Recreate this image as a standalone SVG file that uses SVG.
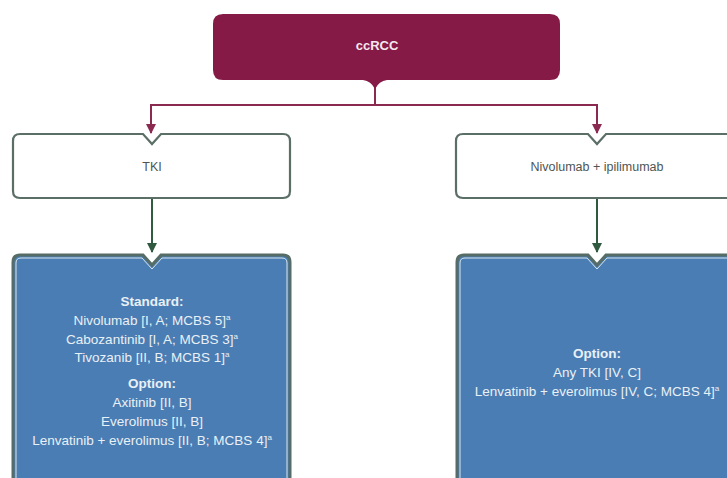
<svg xmlns="http://www.w3.org/2000/svg" width="727" height="478" viewBox="0 0 727 478">
  <defs>
    <style>
      .root { fill: #861a47; }
      .white { fill: #ffffff; stroke: #5b6f67; stroke-width: 2.2; }
      .blue { fill: #4a7db3; stroke: #566c66; stroke-width: 3; }
      .blue-inner { fill: none; stroke: #d9e6ef; stroke-width: 1; }
      .link-red { fill: none; stroke: #8a2a51; stroke-width: 2; }
      .link-green { fill: none; stroke: #2f5a3f; stroke-width: 2; }
      .t { font-family: "Liberation Sans Narrow", "Liberation Sans", Arial, sans-serif; text-anchor: middle; }
      .title { font-size: 13px; font-weight: bold; fill: #f4e8ee; }
      .label { font-size: 12.5px; fill: #4f5552; }
      .body { font-size: 13.5px; fill: #e9f0f6; }
      .head { font-weight: bold; }
      .sup { font-size: 8px; }
    </style>
    <marker id="arrow-red" viewBox="0 0 10 10" refX="9" refY="5" markerWidth="5" markerHeight="5" orient="auto" markerUnits="strokeWidth">
      <path d="M0,0 L10,5 L0,10 Z" fill="#8a2a51"/>
    </marker>
    <marker id="arrow-green" viewBox="0 0 10 10" refX="9" refY="5" markerWidth="5" markerHeight="5" orient="auto" markerUnits="strokeWidth">
      <path d="M0,0 L10,5 L0,10 Z" fill="#2f5a3f"/>
    </marker>
  </defs>

  <rect width="727" height="478" fill="#ffffff"/>

  <!-- connectors -->
  <g id="connectors">
    <path class="link-red" d="M375,86 V105 M151,105 H597"/>
    <path class="link-red" d="M151,104 V133" marker-end="url(#arrow-red)"/>
    <path class="link-red" d="M597,104 V133" marker-end="url(#arrow-red)"/>
    <path class="link-green" d="M152,198 V252" marker-end="url(#arrow-green)"/>
    <path class="link-green" d="M597,198 V252" marker-end="url(#arrow-green)"/>
  </g>

  <!-- root node -->
  <g id="node-ccrcc">
    <path class="root" d="M223,14 H550 Q560,14 560,24 V70 Q560,80 550,80 H387 Q379,81 375,89 Q371,81 363,80 H223 Q213,80 213,70 V24 Q213,14 223,14 Z"/>
    <text class="t title" x="377" y="50">ccRCC</text>
  </g>

  <!-- first-level nodes -->
  <g id="node-tki">
    <path class="white" d="M20,134 H143 L152,144 L161,134 H283 Q290,134 290,141 V191 Q290,198 283,198 H20 Q13,198 13,191 V141 Q13,134 20,134 Z"/>
    <text class="t label" x="152" y="171">TKI</text>
  </g>

  <g id="node-nivo-ipi">
    <path class="white" d="M463,134 H588 L597,144 L606,134 H733 Q740,134 740,141 V191 Q740,198 733,198 H463 Q456,198 456,191 V141 Q456,134 463,134 Z"/>
    <text class="t label" x="597" y="171">Nivolumab + ipilimumab</text>
  </g>

  <!-- second-line options -->
  <g id="node-after-tki">
    <path class="blue" d="M20,255 H143 L152,265 L161,255 H283 Q290,255 290,262 V500 H13 V262 Q13,255 20,255 Z"/>
    <path class="blue-inner" d="M21,258 H142 L152,269 L162,258 H282 Q287,258 287,263 V500 H16 V263 Q16,258 21,258 Z"/>
    <text class="t body head" x="152" y="306">Standard:</text>
    <text class="t body" x="152" y="325">Nivolumab [I, A; MCBS 5]<tspan class="sup" dy="-5">a</tspan></text>
    <text class="t body" x="152" y="344">Cabozantinib [I, A; MCBS 3]<tspan class="sup" dy="-5">a</tspan></text>
    <text class="t body" x="152" y="362">Tivozanib [II, B; MCBS 1]<tspan class="sup" dy="-5">a</tspan></text>
    <text class="t body head" x="152" y="388">Option:</text>
    <text class="t body" x="152" y="407">Axitinib [II, B]</text>
    <text class="t body" x="152" y="426">Everolimus [II, B]</text>
    <text class="t body" x="152" y="445">Lenvatinib + everolimus [II, B; MCBS 4]<tspan class="sup" dy="-5">a</tspan></text>
  </g>

  <g id="node-after-nivo-ipi">
    <path class="blue" d="M464,255 H588 L597,265 L606,255 H733 Q740,255 740,262 V500 H457 V262 Q457,255 464,255 Z"/>
    <path class="blue-inner" d="M465,258 H587 L597,269 L607,258 H732 Q737,258 737,263 V500 H460 V263 Q460,258 465,258 Z"/>
    <text class="t body head" x="597" y="358">Option:</text>
    <text class="t body" x="597" y="377">Any TKI [IV, C]</text>
    <text class="t body" x="597" y="396">Lenvatinib + everolimus [IV, C; MCBS 4]<tspan class="sup" dy="-5">a</tspan></text>
  </g>
</svg>
